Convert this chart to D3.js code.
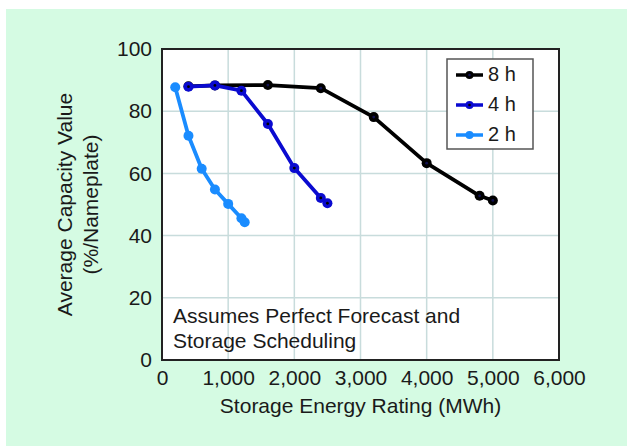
<!DOCTYPE html>
<html>
<head>
<meta charset="utf-8">
<script src="https://cdn.jsdelivr.net/npm/d3@7"></script>
<style>
  body { margin: 0; background: #fff; }
  svg { display: block; font-family: "Liberation Sans", Arial, sans-serif; }
</style>
</head>
<body>
<div id="chart"></div>
<script>
// storage energy rating (MWh) and capacity value (%)
const x8h = [400, 800, 1600, 2400, 3200, 4000, 4800, 5000];
const y8h = [88, 88.3, 88.4, 87.4, 78.1, 63.3, 52.8, 51.3];
const x4h = [400, 800, 1200, 1600, 2000, 2400, 2500];
const y4h = [87.9, 88.3, 86.6, 75.9, 61.7, 52.1, 50.4];
const x2h = [200, 400, 600, 800, 1000, 1200, 1250];
const y2h = [87.7, 72.1, 61.5, 54.8, 50.2, 45.6, 44.3];
const seriesNames = ["8 h", "4 h", "2 h"];
const xTicks = [0, 1000, 2000, 3000, 4000, 5000, 6000];
const yTicks = [0, 20, 40, 60, 80, 100];

const width = 627, height = 446;
const margin = {left: 162, right: 68, top: 49, bottom: 86};

const svg = d3.select("#chart").append("svg")
  .attr("width", width)
  .attr("height", height);

svg.append("rect")
  .attr("x", 6).attr("y", 9)
  .attr("width", width - 6).attr("height", height - 9)
  .attr("fill", "#d5fbe3");

const x = d3.scaleLinear().domain([0, 6000]).range([margin.left, width - margin.right]);
const y = d3.scaleLinear().domain([0, 100]).range([height - margin.bottom, margin.top]);

svg.append("rect")
  .attr("x", x(0)).attr("y", y(100))
  .attr("width", x(6000) - x(0)).attr("height", y(0) - y(100))
  .attr("fill", "#fff");

// grid
svg.append("g").selectAll("line")
  .data(xTicks.slice(1, -1)).join("line")
  .attr("x1", d => x(d)).attr("x2", d => x(d))
  .attr("y1", y(0)).attr("y2", y(100))
  .attr("stroke", "#c8dcdc").attr("stroke-width", 1.5);
svg.append("g").selectAll("line")
  .data(yTicks.slice(1, -1)).join("line")
  .attr("y1", d => y(d)).attr("y2", d => y(d))
  .attr("x1", x(0)).attr("x2", x(6000))
  .attr("stroke", "#c8dcdc").attr("stroke-width", 1.5);

// axes
const fmt = d3.format(",");
const xAxis = svg.append("g")
  .attr("transform", `translate(0,${y(0)})`)
  .call(d3.axisBottom(x).tickValues(xTicks).tickFormat(fmt).tickSize(0).tickPadding(10));
const yAxis = svg.append("g")
  .attr("transform", `translate(${x(0)},0)`)
  .call(d3.axisLeft(y).tickValues(yTicks).tickSize(0).tickPadding(10));
[xAxis, yAxis].forEach(a => {
  a.select(".domain").remove();
  a.selectAll("text").attr("font-size", 21).attr("fill", "#1a1a1a")
    .attr("font-family", "Liberation Sans, Arial, sans-serif");
});

// plot frame
svg.append("rect")
  .attr("x", x(0)).attr("y", y(100))
  .attr("width", x(6000) - x(0)).attr("height", y(0) - y(100))
  .attr("fill", "none").attr("stroke", "#222").attr("stroke-width", 2);

// series
const series = [
  {name: seriesNames[0], xs: x8h, ys: y8h, color: "#000000", dot: "#101050"},
  {name: seriesNames[1], xs: x4h, ys: y4h, color: "#0a0ad0", dot: "#000000"},
  {name: seriesNames[2], xs: x2h, ys: y2h, color: "#1a8cff", dot: "#1a8cff"}
];

const line = d3.line().x(d => x(d[0])).y(d => y(d[1]));

series.forEach(s => {
  const pts = s.xs.map((v, i) => [v, s.ys[i]]);
  const g = svg.append("g");
  g.append("path")
    .attr("d", line(pts))
    .attr("fill", "none")
    .attr("stroke", s.color)
    .attr("stroke-width", 3.8)
    .attr("stroke-linejoin", "round");
  g.selectAll("circle.m")
    .data(pts).join("circle")
    .attr("cx", d => x(d[0])).attr("cy", d => y(d[1]))
    .attr("r", 5)
    .attr("fill", s.color);
  g.selectAll("circle.c")
    .data(pts).join("circle")
    .attr("cx", d => x(d[0])).attr("cy", d => y(d[1]))
    .attr("r", 1.4)
    .attr("fill", s.dot);
});

// legend
const lg = svg.append("g");
lg.append("rect")
  .attr("x", 447).attr("y", 59)
  .attr("width", 86).attr("height", 90)
  .attr("fill", "#fff").attr("stroke", "#555").attr("stroke-width", 1.5);
series.forEach((s, i) => {
  const ly = 75 + i * 30;
  lg.append("line")
    .attr("x1", 456).attr("x2", 483).attr("y1", ly).attr("y2", ly)
    .attr("stroke", s.color).attr("stroke-width", 3.5);
  lg.append("circle").attr("cx", 469.5).attr("cy", ly).attr("r", 4).attr("fill", s.color);
  lg.append("circle").attr("cx", 469.5).attr("cy", ly).attr("r", 1.3).attr("fill", s.dot);
  lg.append("text")
    .attr("x", 488).attr("y", ly + 6)
    .attr("font-size", 20).attr("fill", "#1a1a1a")
    .text(s.name);
});

// annotation
svg.append("text")
  .attr("x", 173).attr("y", 323)
  .attr("font-size", 21).attr("fill", "#1a1a1a")
  .text("Assumes Perfect Forecast and");
svg.append("text")
  .attr("x", 173).attr("y", 348)
  .attr("font-size", 21).attr("fill", "#1a1a1a")
  .text("Storage Scheduling");

// axis titles
svg.append("text")
  .attr("x", (x(0) + x(6000)) / 2).attr("y", 413)
  .attr("text-anchor", "middle")
  .attr("font-size", 21).attr("fill", "#1a1a1a")
  .text("Storage Energy Rating (MWh)");
const yt = svg.append("text")
  .attr("transform", `translate(72,${(y(0) + y(100)) / 2}) rotate(-90)`)
  .attr("text-anchor", "middle")
  .attr("font-size", 21).attr("fill", "#1a1a1a");
yt.append("tspan").attr("x", 0).attr("dy", 0).text("Average Capacity Value");
yt.append("tspan").attr("x", 0).attr("dy", 26).text("(%/Nameplate)");
</script>
</body>
</html>
